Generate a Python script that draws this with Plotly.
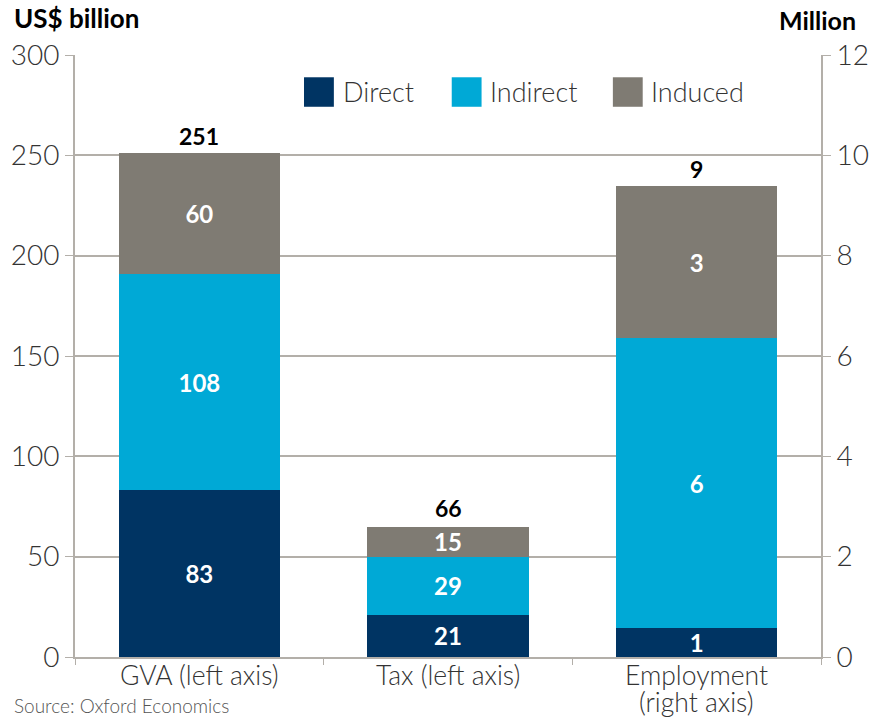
import plotly.graph_objects as go

# categories and values
categories = ['GVA (left axis)', 'Tax (left axis)', 'Employment (right axis)']
category_lines = [['GVA (left axis)'], ['Tax (left axis)'], ['Employment', '(right axis)']]
left_cats = categories[:2]
right_cats = categories[2:]

# US$ billion (left axis)
direct_left = [83, 21]
indirect_left = [108, 29]
induced_left = [60, 15]
totals_left = [251, 66]

# Million jobs (right axis) - bar heights and the rounded labels shown
direct_emp = [0.58]
indirect_emp = [5.77]
induced_emp = [3.03]
emp_labels = {'direct': ['1'], 'indirect': ['6'], 'induced': ['3']}
emp_total_label = ['9']

series = ['Direct', 'Indirect', 'Induced']
colors = {'Direct': '#003463', 'Indirect': '#00a9d6', 'Induced': '#7f7b73'}

FONT = 'Lato'
GRID = '#b3afa9'
TEXT = '#333333'
BAR_TEXT = dict(family=FONT, size=24, color='white', weight='bold')

fig = go.Figure()

left_vals = {'Direct': direct_left, 'Indirect': indirect_left, 'Induced': induced_left}
right_vals = {'Direct': direct_emp, 'Indirect': indirect_emp, 'Induced': induced_emp}

for name in series:
    fig.add_trace(go.Bar(
        x=left_cats, y=left_vals[name], name=name,
        marker_color=colors[name], marker_line_width=0,
        text=[str(v) for v in left_vals[name]],
        textposition='inside', insidetextanchor='middle', textangle=0,
        constraintext='none', textfont=BAR_TEXT, width=0.65,
        showlegend=False, yaxis='y'
    ))
for name in series:
    fig.add_trace(go.Bar(
        x=right_cats, y=right_vals[name], name=name,
        marker_color=colors[name], marker_line_width=0,
        text=emp_labels[name.lower()],
        textposition='inside', insidetextanchor='middle', textangle=0,
        constraintext='none', textfont=BAR_TEXT, width=0.65,
        showlegend=False, yaxis='y2'
    ))

# totals above the stacks
annotations = []
for cat, tot in zip(left_cats, totals_left):
    annotations.append(dict(
        x=cat, y=tot, xref='x', yref='y', text=f'<b>{tot}</b>',
        showarrow=False, yanchor='bottom', yshift=1,
        font=dict(family=FONT, size=23, color='black')
    ))
emp_total = sum(direct_emp) + sum(indirect_emp) + sum(induced_emp)
annotations.append(dict(
    x=right_cats[0], y=emp_total, xref='x', yref='y2',
    text=f'<b>{emp_total_label[0]}</b>',
    showarrow=False, yanchor='bottom', yshift=1,
    font=dict(family=FONT, size=23, color='black')
))

# category labels, drawn line by line to get the tight line spacing
for cat, lines in zip(categories, category_lines):
    for i, line in enumerate(lines):
        annotations.append(dict(
            x=cat, y=0, xref='x', yref='paper', text=line,
            showarrow=False, yanchor='middle', yshift=-18 - 27 * i,
            font=dict(family=FONT, size=26.5, color=TEXT, weight=300)
        ))

# hand-made legend (bigger swatches than plotly's own)
shapes = []
legend_x = [0.307, 0.505, 0.721]
for name, lx in zip(series, legend_x):
    shapes.append(dict(
        type='rect', xref='paper', yref='paper',
        x0=lx, x1=lx + 0.040, y0=0.914, y1=0.963,
        fillcolor=colors[name], line_width=0
    ))
    annotations.append(dict(
        x=lx + 0.049, y=0.939, xref='paper', yref='paper', text=name,
        showarrow=False, xanchor='left', yanchor='middle',
        font=dict(family=FONT, size=27, color=TEXT, weight=300)
    ))

# axis titles and source
annotations += [
    dict(text='<b>US$ billion</b>', x=-0.085, y=1.032, xref='paper', yref='paper',
         xanchor='left', yanchor='bottom', showarrow=False,
         font=dict(family=FONT, size=26, color='black')),
    dict(text='<b>Million</b>', x=1.05, y=1.03, xref='paper', yref='paper',
         xanchor='right', yanchor='bottom', showarrow=False,
         font=dict(family=FONT, size=25, color='black')),
    dict(text='Source: Oxford Economics', x=-0.085, y=-0.08, xref='paper', yref='paper',
         xanchor='left', yanchor='middle', showarrow=False,
         font=dict(family=FONT, size=19, color='#555555', weight=300)),
]

tickfont = dict(family=FONT, size=28, color=TEXT, weight=300)

fig.update_layout(
    width=871, height=718,
    barmode='stack',
    margin=dict(l=75, r=50, t=55, b=61),
    plot_bgcolor='white', paper_bgcolor='white',
    showlegend=False,
    xaxis=dict(
        type='category', categoryorder='array', categoryarray=categories,
        tickson='boundaries', ticks='outside', ticklen=6, tickcolor=GRID,
        showline=True, linecolor=GRID, linewidth=2, showgrid=False,
        showticklabels=False, automargin=False
    ),
    yaxis=dict(
        range=[0, 300], dtick=50, showgrid=True, gridcolor=GRID, gridwidth=1.5,
        showline=True, linecolor=GRID, linewidth=2, ticks='outside',
        ticklen=8, tickcolor=GRID, tickfont=tickfont, zeroline=False,
        automargin=False
    ),
    yaxis2=dict(
        range=[0, 12], dtick=2, overlaying='y', side='right',
        showgrid=False, showline=True, linecolor=GRID, linewidth=2,
        ticks='outside', ticklen=8, tickcolor=GRID, tickfont=tickfont,
        zeroline=False, automargin=False
    ),
    annotations=annotations,
    shapes=shapes,
)

# drop the page's default body margin so the figure fills the window
fig.write_html(
    'out.html',
    config={'displayModeBar': False},
    post_script="document.body.style.margin='0';document.body.style.overflow='hidden';"
)
